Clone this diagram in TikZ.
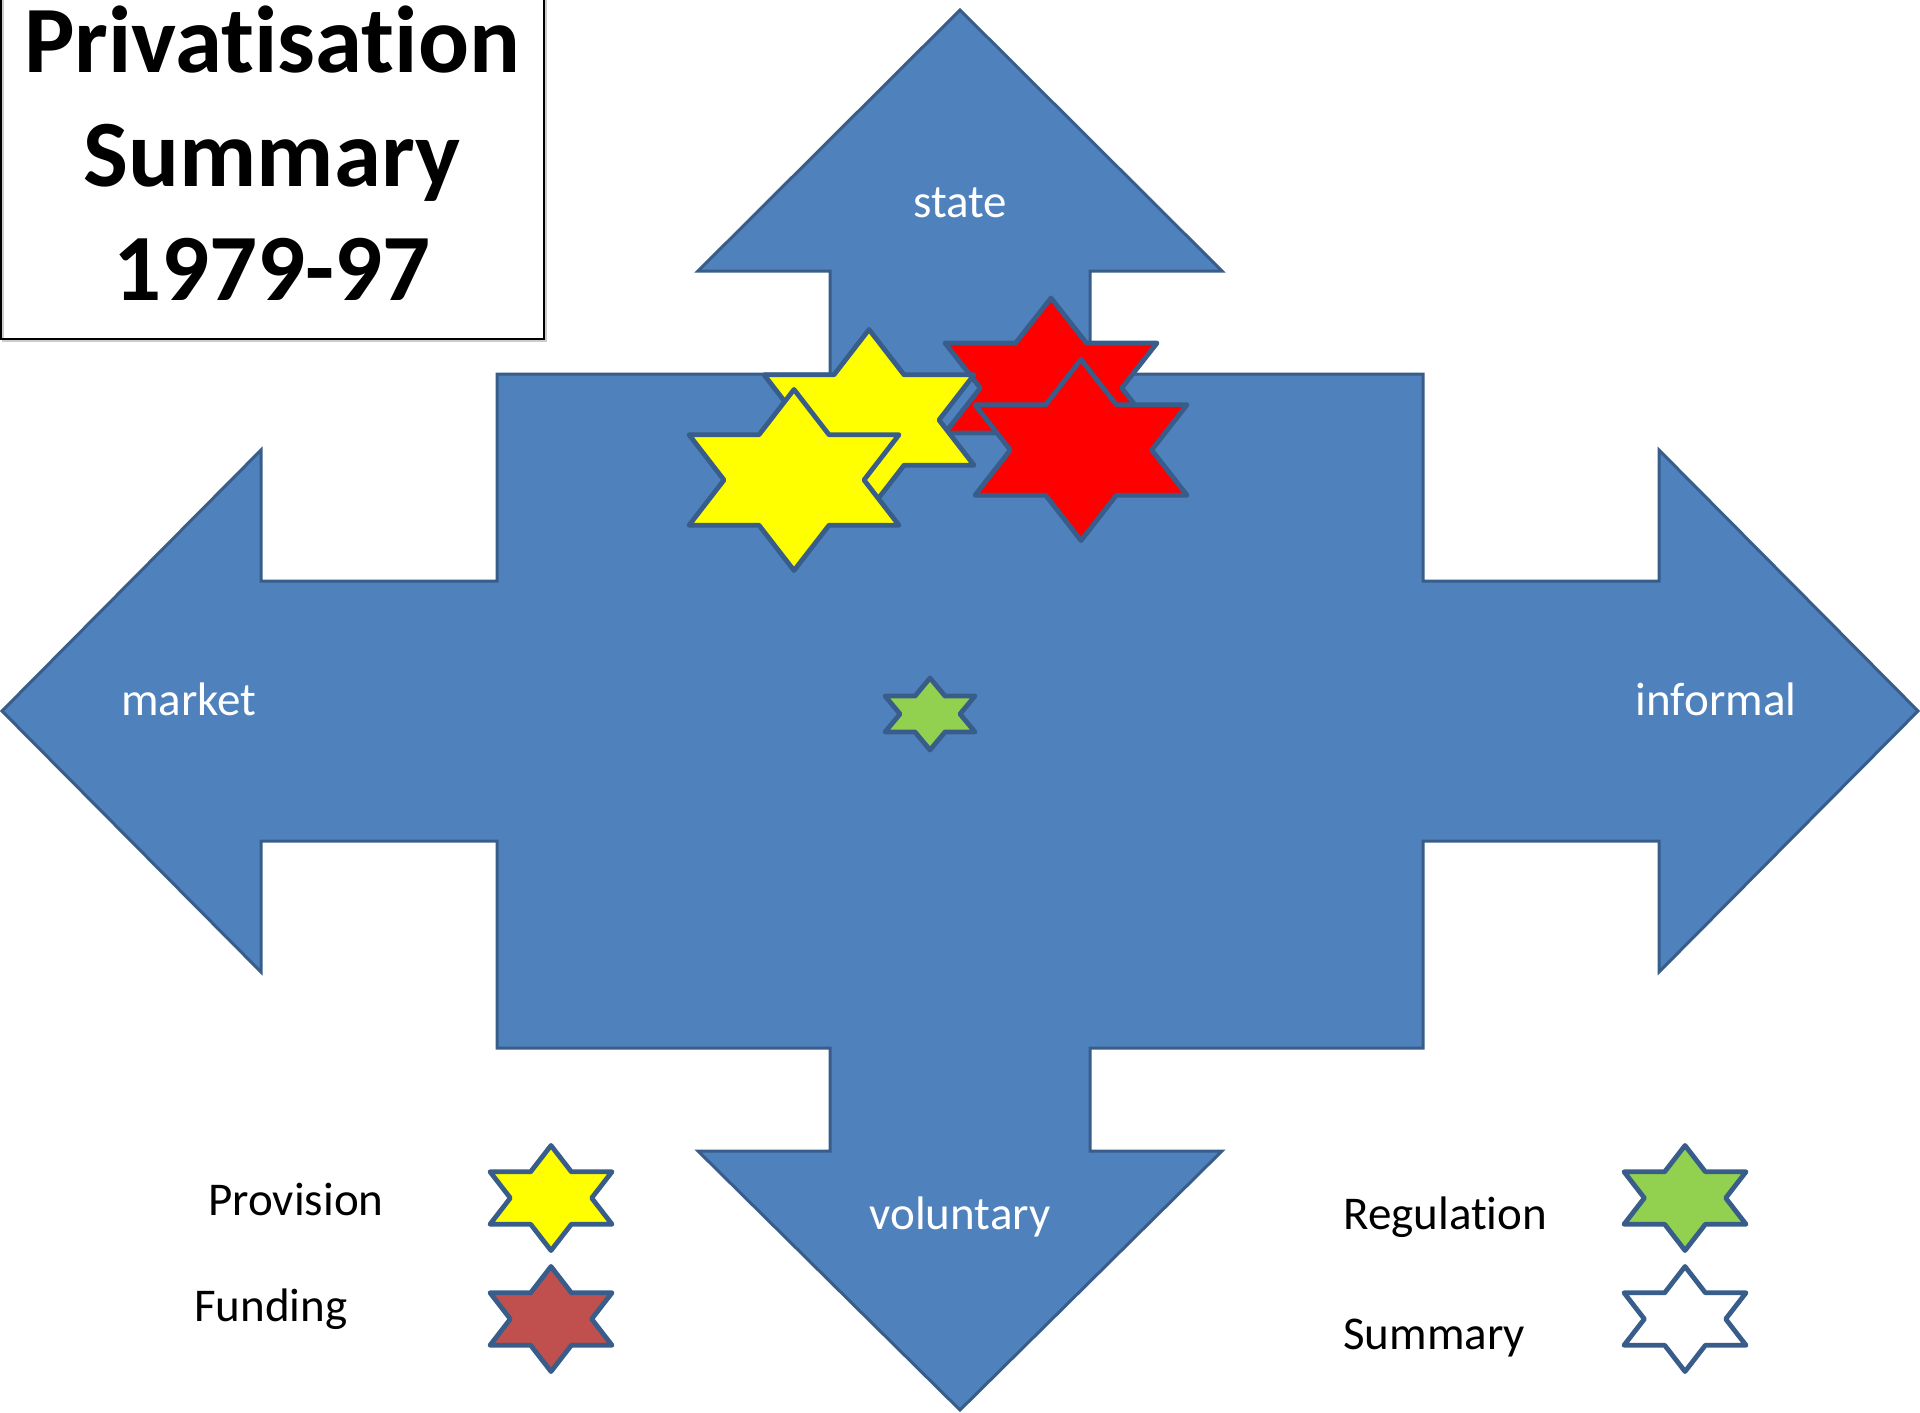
\documentclass[tikz,border=0pt]{standalone}
\usepackage{fontspec}
\setmainfont{Carlito}[Ligatures=NoCommon]
\definecolor{crossfill}{HTML}{4F81BD}
\definecolor{crossline}{HTML}{385D8A}
\definecolor{regreen}{HTML}{92D050}
\definecolor{fundred}{HTML}{C0504D}
\definecolor{pureyellow}{HTML}{FFFF00}
\definecolor{purered}{HTML}{FF0000}
\definecolor{purewhite}{HTML}{FFFFFF}
\tikzset{
  crossshape/.style={fill=crossfill, draw=crossline, line width=1.5pt, line join=miter},
  starline/.style={draw=crossline, line width=2.4pt, line join=round},
  axislabel/.style={text=white, font=\fontsize{23.5}{28}\selectfont, anchor=base, inner sep=0pt},
  legendlabel/.style={text=black, font=\fontsize{23.5}{28}\selectfont, anchor=base, inner sep=0pt},
  titlelabel/.style={text=black, font=\bfseries\fontsize{47.5}{57}\selectfont, anchor=base, inner sep=0pt}
}
\newcommand\hstar[5]{%
  \begin{scope}[shift={(#1,#2)}, xscale=#3/6, yscale=#4/4]
    \draw[starline, fill=#5] (0,-2) -- (1,-1) -- (3,-1) -- (2,0) -- (3,1) -- (1,1) -- (0,2)
      -- (-1,1) -- (-3,1) -- (-2,0) -- (-3,-1) -- (-1,-1) -- cycle;
  \end{scope}}
\begin{document}
\begin{tikzpicture}[x=0.5pt, y=-0.5pt]
\useasboundingbox (0,0) rectangle (1920,1412);
% title box
\draw[gray!40, line width=1pt] (3,-10) -- (3,341) -- (546,341) -- (546,-10);
\draw[black, line width=1pt] (1,-10) -- (1,339) -- (544,339) -- (544,-10);
\node[titlelabel] (t1) at (272,73) {Privatisation};
\node[titlelabel] (t2) at (272,187) {Summary};
\node[titlelabel] (t3) at (272,300) {1979-97};
% cross of arrows
\draw[crossshape] (960,10) -- (1222,271) -- (1090,271) -- (1090,374) -- (1423,374) -- (1423,581)
  -- (1659,581) -- (1659,450) -- (1918,711) -- (1659,972) -- (1659,841) -- (1423,841)
  -- (1423,1048) -- (1090,1048) -- (1090,1151) -- (1222,1151) -- (960,1410) -- (698,1151)
  -- (830,1151) -- (830,1048) -- (497,1048) -- (497,841) -- (261,841) -- (261,972)
  -- (2,711) -- (261,450) -- (261,581) -- (497,581) -- (497,374) -- (830,374)
  -- (830,271) -- (698,271) -- cycle;
\node[axislabel] (state) at (960,218) {state};
\node[axislabel] (market) at (189,715) {market};
\node[axislabel] (informal) at (1716,715) {informal};
\node[axislabel] (voluntary) at (960,1229) {voluntary};
% stars on the diagram
\hstar{1051}{388}{212}{180}{purered}
\hstar{1081}{450}{212}{181}{purered}
\hstar{869}{420}{210}{181}{pureyellow}
\hstar{794}{480}{210}{181}{pureyellow}
\hstar{930}{714}{90}{72}{regreen}
% legend
\node[legendlabel] (prov) at (296,1215) {Provision};
\node[legendlabel] (fund) at (271,1321) {Funding};
\node[legendlabel, anchor=base west] (reg) at (1343,1229) {Regulation};
\node[legendlabel, anchor=base west] (summ) at (1343,1349) {Summary};
\hstar{551}{1198}{122}{105}{pureyellow}
\hstar{551}{1319}{122}{105}{fundred}
\hstar{1685}{1198}{122}{105}{regreen}
\hstar{1685}{1319}{122}{105}{purewhite}
\end{tikzpicture}
\end{document}
